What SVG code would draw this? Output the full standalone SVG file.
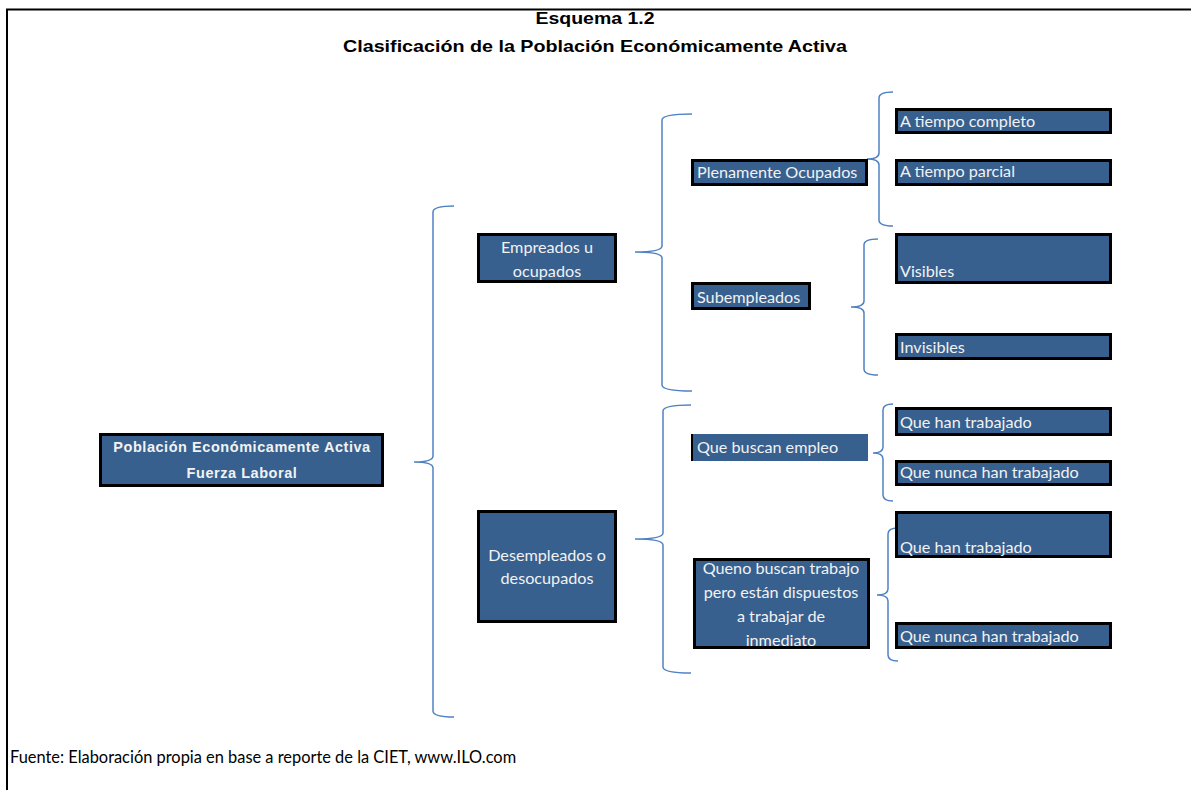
<svg xmlns="http://www.w3.org/2000/svg" width="1191" height="790" viewBox="0 0 1191 790">
<style>
.box{fill:#37608F;stroke:#000;stroke-width:3}
.fill{fill:#37608F}
.edge{fill:none;stroke:#000;stroke-width:3}
.br{fill:none;stroke:#4F82C2;stroke-width:1.5}
.t{font-family:Lato,"Liberation Sans",sans-serif;font-size:16.2px;fill:#F2F2F2}
.c{text-anchor:middle}
.ttl{font-family:"Liberation Sans",Arial,sans-serif;font-weight:bold;font-size:17px;fill:#000;text-anchor:middle}
.pea{font-family:"Liberation Sans",Arial,sans-serif;font-weight:bold;font-size:14.5px;fill:#F2F2F2;text-anchor:middle;letter-spacing:0.55px}
.foot{font-family:Lato,"Liberation Sans",sans-serif;font-size:16.4px;fill:#000}
</style>
<rect width="1191" height="790" fill="#fff"/>
<g id="frame">
<line x1="6" y1="9.5" x2="1191" y2="9.5" stroke="#000" stroke-width="2"/>
<line x1="7" y1="9" x2="7" y2="790" stroke="#000" stroke-width="2"/>
</g>
<g id="title">
<text class="ttl" x="595" y="24" textLength="119" lengthAdjust="spacingAndGlyphs">Esquema 1.2</text>
<text class="ttl" x="595" y="52" textLength="504" lengthAdjust="spacingAndGlyphs">Clasificación de la Población Económicamente Activa</text>
</g>
<g id="connectors">
<path class="br" d="M454,206 Q433,206 433,212 L433,456 Q433,462 414,462 Q433,462 433,468 L433,711 Q433,717 454,717"/>
<path class="br" d="M692,114 Q662,114 662,120 L662,246 Q662,252 635,252 Q662,252 662,258 L662,385 Q662,391 692,391"/>
<path class="br" d="M893,92 Q879,92 879,98 L879,153 Q879,159 867,159 Q879,159 879,165 L879,220 Q879,226 893,226"/>
<path class="br" d="M878,239 Q864,239 864,245 L864,301 Q864,307 851,307 Q864,307 864,313 L864,369 Q864,375 878,375"/>
<path class="br" d="M691,405 Q663,405 663,411 L663,533 Q663,539 635,539 Q663,539 663,545 L663,667 Q663,673 691,673"/>
<path class="br" d="M893,404 Q883,404 883,410 L883,447 Q883,453 873,453 Q883,453 883,459 L883,495 Q883,501 893,501"/>
<path class="br" d="M898,528 Q888,528 888,534 L888,589 Q888,595 877,595 Q888,595 888,601 L888,655 Q888,661 898,661"/>
</g>
<g id="n-pea">
<rect class="box" x="100.5" y="434.5" width="282" height="51"/>
<text class="pea" x="242" y="452">Población Económicamente Activa</text>
<text class="pea" x="242" y="478">Fuerza Laboral</text>
</g>
<g id="n-empleados">
<rect class="box" x="478.5" y="234.5" width="137" height="47"/>
<text class="t c" x="547" y="253">Empreados u</text>
<text class="t c" x="547" y="277">ocupados</text>
</g>
<g id="n-desempleados">
<rect class="box" x="478.5" y="511.5" width="137" height="110"/>
<text class="t c" x="547" y="561">Desempleados o</text>
<text class="t c" x="547" y="584">desocupados</text>
</g>
<g id="n-plenamente">
<rect class="box" x="692.5" y="160.5" width="174" height="24"/>
<text class="t" x="697" y="178">Plenamente Ocupados</text>
</g>
<g id="n-subempleados">
<rect class="box" x="692.5" y="283.5" width="117" height="25"/>
<text class="t" x="697" y="303">Subempleados</text>
</g>
<g id="n-buscan">
<rect class="fill" x="691" y="434" width="177" height="27"/>
<line x1="692" y1="434" x2="692" y2="461" stroke="#000" stroke-width="2"/>
<text class="t" x="697" y="453">Que buscan empleo</text>
</g>
<g id="n-noBuscan">
<rect class="fill" x="694" y="559" width="175" height="89"/>
<text class="t c" x="781" y="574">Queno buscan trabajo</text>
<text class="t c" x="781" y="598">pero están dispuestos</text>
<text class="t c" x="781" y="622">a trabajar de</text>
<text class="t c" x="781" y="646">inmediato</text>
<rect class="edge" x="694.5" y="559.5" width="174" height="88"/>
</g>
<g id="n-completo">
<rect class="box" x="896.5" y="109.5" width="214" height="23"/>
<text class="t" x="900" y="127">A tiempo completo</text>
</g>
<g id="n-parcial">
<rect class="box" x="896.5" y="160.5" width="214" height="24"/>
<text class="t" x="900" y="177">A tiempo parcial</text>
</g>
<g id="n-visibles">
<rect class="box" x="896.5" y="234.5" width="214" height="48"/>
<text class="t" x="900" y="277">Visibles</text>
</g>
<g id="n-invisibles">
<rect class="box" x="896.5" y="334.5" width="214" height="24"/>
<text class="t" x="900" y="353">Invisibles</text>
</g>
<g id="n-hanTrabajado1">
<rect class="box" x="896.5" y="408.5" width="214" height="26"/>
<text class="t" x="900" y="428">Que han trabajado</text>
</g>
<g id="n-nuncaTrabajado1">
<rect class="box" x="896.5" y="461.5" width="214" height="23"/>
<text class="t" x="900" y="478">Que nunca han trabajado</text>
</g>
<g id="n-hanTrabajado2">
<rect class="box" x="896.5" y="512.5" width="214" height="44"/>
<text class="t" x="900" y="553">Que han trabajado</text>
</g>
<g id="n-nuncaTrabajado2">
<rect class="box" x="896.5" y="623.5" width="214" height="24"/>
<text class="t" x="900" y="642">Que nunca han trabajado</text>
</g>
<g id="footer">
<text class="foot" x="10" y="763">Fuente: Elaboración propia en base a reporte de la CIET, www.ILO.com</text>
</g>
</svg>
